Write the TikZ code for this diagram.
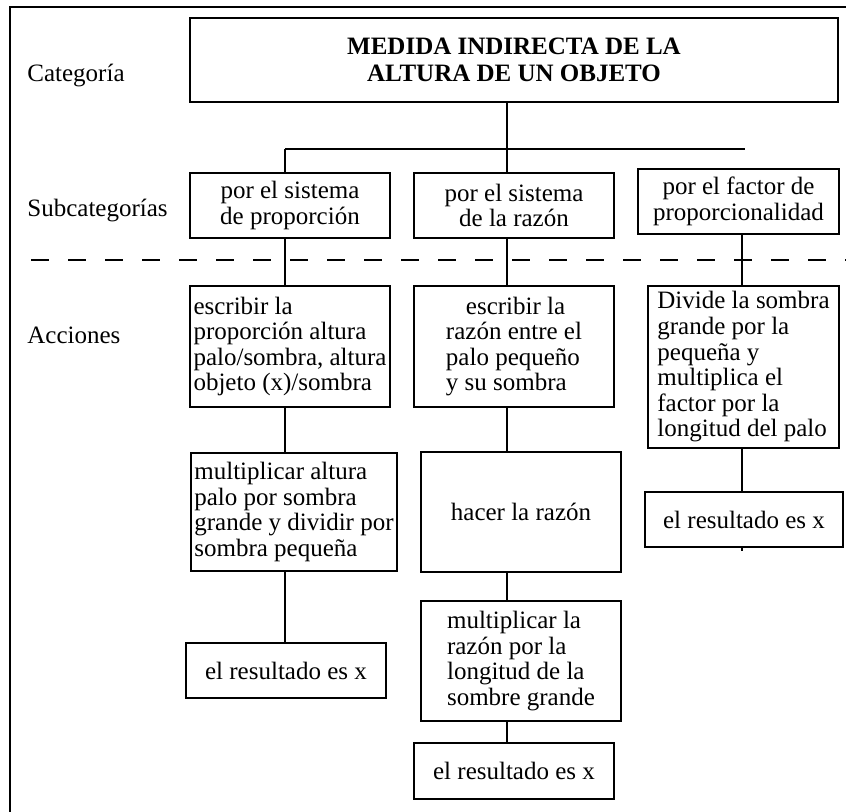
\documentclass[tikz,border=0pt]{standalone}
\usepackage{fontspec}
\setmainfont{Liberation Serif}
\tikzset{
  box/.style={draw, line width=1pt, inner sep=0pt, outer sep=0pt},
  link/.style={line width=1pt},
  tag/.style={anchor=west, inner sep=0pt},
}

\begin{document}
\begin{tikzpicture}[x=0.5pt, y=-0.5pt, font=\fontsize{12.5}{12.8}\selectfont]
    \useasboundingbox (0,0) rectangle (846,812);

    % Frame (top and left edges)
    \draw[link] (10,812) -- (10,7) -- (846,7);

    % Row labels
    \node[tag] (lcat) at (27,76) {Categoría};
    \node[tag] (lsub) at (27,211) {Subcategorías};
    \node[tag] (lacc) at (27,335) {Acciones};

    % Category
    \node[box,minimum width=324pt,minimum height=42pt,align=center,font=\fontsize{12.5}{13.2}\selectfont\bfseries] (title) at (514,60)
        {MEDIDA INDIRECTA DE LA\\ALTURA DE UN OBJETO};

    % Branch bar
    \coordinate (k1) at (285,149);
    \coordinate (k2) at (507,149);
    \coordinate (k3) at (742,149);
    \coordinate (kend) at (745,149);
    \draw[link] (title.south -| k2) -- (k2);
    \draw[link] (k1) -- (kend);

    % Subcategories
    \node[box,minimum width=100pt,minimum height=32.5pt,align=center] (sub1) at (290,205.5) {por el sistema\\de proporción};
    \node[box,minimum width=100pt,minimum height=32.5pt,align=center] (sub2) at (514,205.5) {por el sistema\\de la razón};
    \node[box,minimum width=100.5pt,minimum height=32.5pt,align=center] (sub3) at (738.5,201.5) {por el factor de\\proporcionalidad};
    \draw[link] (k1) -- (sub1.north -| k1);
    \draw[link] (k2) -- (sub2.north -| k2);

    % Separator
    \coordinate (sepL) at (31,260.5);
    \coordinate (sepR) at (846,260.5);
    \draw[link, dash pattern=on 9pt off 9.5pt] (sepL) -- (sepR);

    % Actions, first row
    \node[box,minimum width=100pt,minimum height=60.5pt,align=left] (act1) at (290,346.5)
        {escribir la\\proporción altura\\palo/sombra, altura\\objeto (x)/sombra};
    \node[box,minimum width=100pt,minimum height=60.5pt,align=left] (act2) at (514,346.5)
        {\hspace*{10pt}escribir la\\razón entre el\\palo pequeño\\y su sombra};
    \node[box,minimum width=95.5pt,minimum height=81pt,align=left] (act3) at (743.5,367)
        {Divide la sombra\\grande por la\\pequeña y\\multiplica el\\factor por la\\longitud del palo};
    \draw[link] (sub1.south -| k1) -- (act1.north -| k1);
    \draw[link] (sub2.south -| k2) -- (act2.north -| k2);
    \draw[link] (sub3.south -| k3) -- (act3.north -| k3);

    % Actions, second row
    \node[box,minimum width=103pt,minimum height=59pt,align=left] (mul1) at (294,512)
        {multiplicar altura\\palo por sombra\\grande y dividir por\\sombra pequeña};
    \node[box,minimum width=100pt,minimum height=60pt,align=center] (raz2) at (521,512) {hacer la razón};
    \node[box,minimum width=99pt,minimum height=27.5pt,align=center] (res3) at (744,519.5) {el resultado es x};
    \draw[link] (act1.south -| k1) -- (mul1.north -| k1);
    \draw[link] (act2.south -| k2) -- (raz2.north -| k2);
    \draw[link] (act3.south -| k3) -- (res3.north -| k3);
    \coordinate (stub) at (742,551);
    \draw[link] (res3.south -| k3) -- (stub);

    % Actions, third row
    \node[box,minimum width=100pt,minimum height=27.5pt,align=center] (res1) at (286,670.5) {el resultado es x};
    \node[box,minimum width=100pt,minimum height=60pt,align=left] (mul2) at (521,661)
        {multiplicar la\\razón por la\\longitud de la\\sombre grande};
    \draw[link] (mul1.south -| k1) -- (res1.north -| k1);
    \draw[link] (raz2.south -| k2) -- (mul2.north -| k2);

    % Last result
    \node[box,minimum width=100pt,minimum height=28pt,align=center] (res2) at (514,771) {el resultado es x};
    \draw[link] (mul2.south -| k2) -- (res2.north -| k2);
\end{tikzpicture}
\end{document}
